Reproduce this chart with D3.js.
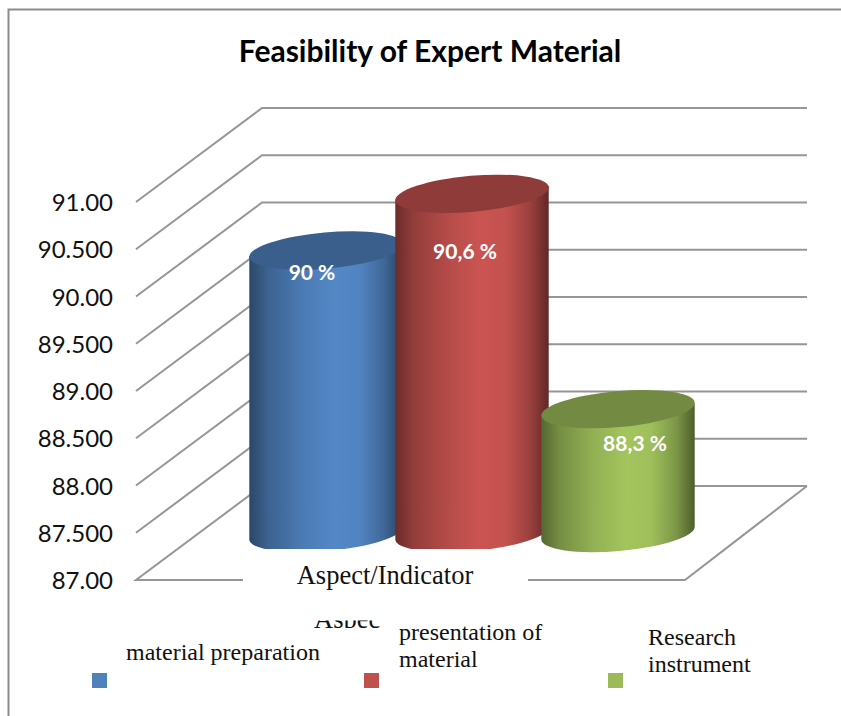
<!DOCTYPE html>
<html>
<head>
<meta charset="utf-8">
<script src="https://cdn.jsdelivr.net/npm/d3@7"></script>
<style>
  body { margin: 0; background: #fff; }
  svg { display: block; }
</style>
</head>
<body>
<div id="chart"></div>
<script>
const categories = ["material preparation", "presentation of material", "Research instrument"];
const values = [90, 90.6, 88.3];
const valueLabels = ["90 %", "90,6 %", "88,3 %"];
const tickValues = [87, 87.5, 88, 88.5, 89, 89.5, 90, 90.5, 91];
const tickLabels = ["87.00", "87.500", "88.00", "88.500", "89.00", "89.500", "90.00", "90.500", "91.00"];
const legendLines = [["material preparation"], ["presentation of", "material"], ["Research", "instrument"]];
const baseColors = ["#4f81bd", "#c0504d", "#9bbb59"];

const size = { width: 841, height: 716 };
const plot = { left: 136, right: 685, bottom: 580, top: 202 };
const depth = { x: 125, y: -94 };
const rx = 77, ry = 18, tilt = -5;

const svg = d3.select("#chart").append("svg")
    .attr("width", size.width)
    .attr("height", size.height)
    .style("font-family", "Lato, sans-serif");

const yScale = d3.scaleLinear().domain([87, 91]).range([plot.bottom, plot.top]);
const xScale = d3.scaleBand().domain(categories).range([253, 691]);

// outer frame
svg.append("path")
    .attr("d", "M841,9.5H8.5V716")
    .attr("fill", "none")
    .attr("stroke", "#8c8c8c")
    .attr("stroke-width", 2);

svg.append("text")
    .attr("x", 430).attr("y", 62)
    .attr("text-anchor", "middle")
    .attr("font-size", 30)
    .attr("font-weight", 700)
    .text("Feasibility of Expert Material");

// gridlines: front edge, back wall
const line = d3.line();
svg.append("g").selectAll("path")
    .data(tickValues)
    .join("path")
    .attr("fill", "none")
    .attr("stroke", "#969696")
    .attr("stroke-width", 2)
    .attr("d", d => {
        const y = yScale(d);
        if (d === 87) {
            return line([[plot.right + depth.x - 3, y + depth.y], [plot.right, y], [plot.left, y], [plot.left + depth.x + 1, y + depth.y], [plot.right + depth.x - 3, y + depth.y]]);
        }
        return line([[plot.left, y], [plot.left + depth.x + 1, y + depth.y], [807, y + depth.y]]);
    });

// y axis
const axis = svg.append("g")
    .attr("transform", "translate(116,1)")
    .call(d3.axisLeft(yScale).tickValues(tickValues).tickSize(0).tickFormat((d, i) => tickLabels[i]));
axis.select(".domain").remove();
axis.selectAll("text").attr("font-size", 24).attr("font-family", "Lato, sans-serif").attr("fill", "#111");

// cylinder shading
const defs = svg.append("defs");
categories.forEach((c, i) => {
    const base = d3.rgb(baseColors[i]);
    const grad = defs.append("linearGradient").attr("id", "body" + i);
    [[0, 0.55], [0.12, 0.76], [0.35, 0.95], [0.55, 1.05], [0.72, 1.02], [0.88, 0.8], [1, 0.5]].forEach(([o, k]) => {
        grad.append("stop")
            .attr("offset", o)
            .attr("stop-color", d3.rgb(base.r * k, base.g * k, base.b * k).formatHex());
    });
});

const rad = tilt * Math.PI / 180;
const dx = rx * Math.cos(rad), dy = rx * Math.sin(rad);

const cyl = svg.append("g").selectAll("g")
    .data(categories)
    .join("g")
    .attr("transform", d => `translate(${xScale(d) + xScale.bandwidth() / 2},0)`);

cyl.append("path")
    .attr("fill", (d, i) => `url(#body${i})`)
    .attr("d", (d, i) => {
        const top = yScale(values[i]) + depth.y / 2;
        const bot = yScale(87) + depth.y / 2;
        return `M${-dx},${top - dy}L${-dx},${bot - dy}A${rx},${ry} ${tilt} 0 0 ${dx},${bot + dy}L${dx},${top + dy}Z`;
    });

cyl.append("ellipse")
    .attr("rx", rx)
    .attr("ry", ry)
    .attr("transform", (d, i) => `translate(0,${yScale(values[i]) + depth.y / 2 + [1, 1, -1][i]}) rotate(${tilt})`)
    .attr("fill", (d, i) => {
        const c = d3.rgb(baseColors[i]);
        return d3.rgb(c.r * 0.74, c.g * 0.74, c.b * 0.74).formatHex();
    });

cyl.append("text")
    .attr("x", (d, i) => [-14, -7, 17][i])
    .attr("y", (d, i) => yScale(values[i]) + depth.y / 2 + [30, 66, 41][i])
    .attr("text-anchor", "middle")
    .attr("fill", "#fff")
    .attr("font-size", 21)
    .attr("font-weight", 700)
    .text((d, i) => valueLabels[i]);

// axis title sits in a white box that hides the floor and cylinder feet
svg.append("rect")
    .attr("x", 243).attr("y", 549)
    .attr("width", 285).attr("height", 58)
    .attr("fill", "#fff");

svg.append("text")
    .attr("x", 385).attr("y", 584)
    .attr("text-anchor", "middle")
    .attr("font-family", "'Liberation Serif', serif")
    .attr("font-size", 26.5)
    .attr("fill", "#111")
    .text("Aspect/Indicator");

// clipped copy of the axis title behind the legend
defs.append("clipPath").attr("id", "titleClip")
    .append("rect").attr("x", 300).attr("y", 620.5).attr("width", 80).attr("height", 7.5);
svg.append("text")
    .attr("x", 314).attr("y", 628)
    .attr("clip-path", "url(#titleClip)")
    .attr("font-family", "'Liberation Serif', serif")
    .attr("font-size", 26.5)
    .attr("fill", "#111")
    .text("Aspect");

// legend
const legendX = [126, 399, 648];
const legendY = [660, 640, 645];
const swatchX = [92, 364, 608];
const legend = svg.append("g").selectAll("g")
    .data(categories)
    .join("g");

legend.append("rect")
    .attr("x", (d, i) => swatchX[i])
    .attr("y", 673)
    .attr("width", 15)
    .attr("height", 15)
    .attr("fill", (d, i) => baseColors[i]);

legend.append("text")
    .attr("font-family", "'Liberation Serif', serif")
    .attr("font-size", 24)
    .attr("fill", "#111")
    .selectAll("tspan")
    .data((d, i) => legendLines[i].map(t => ({ t, i })))
    .join("tspan")
    .attr("x", d => legendX[d.i])
    .attr("y", (d, j) => legendY[d.i] + j * 27)
    .text(d => d.t);
</script>
</body>
</html>
